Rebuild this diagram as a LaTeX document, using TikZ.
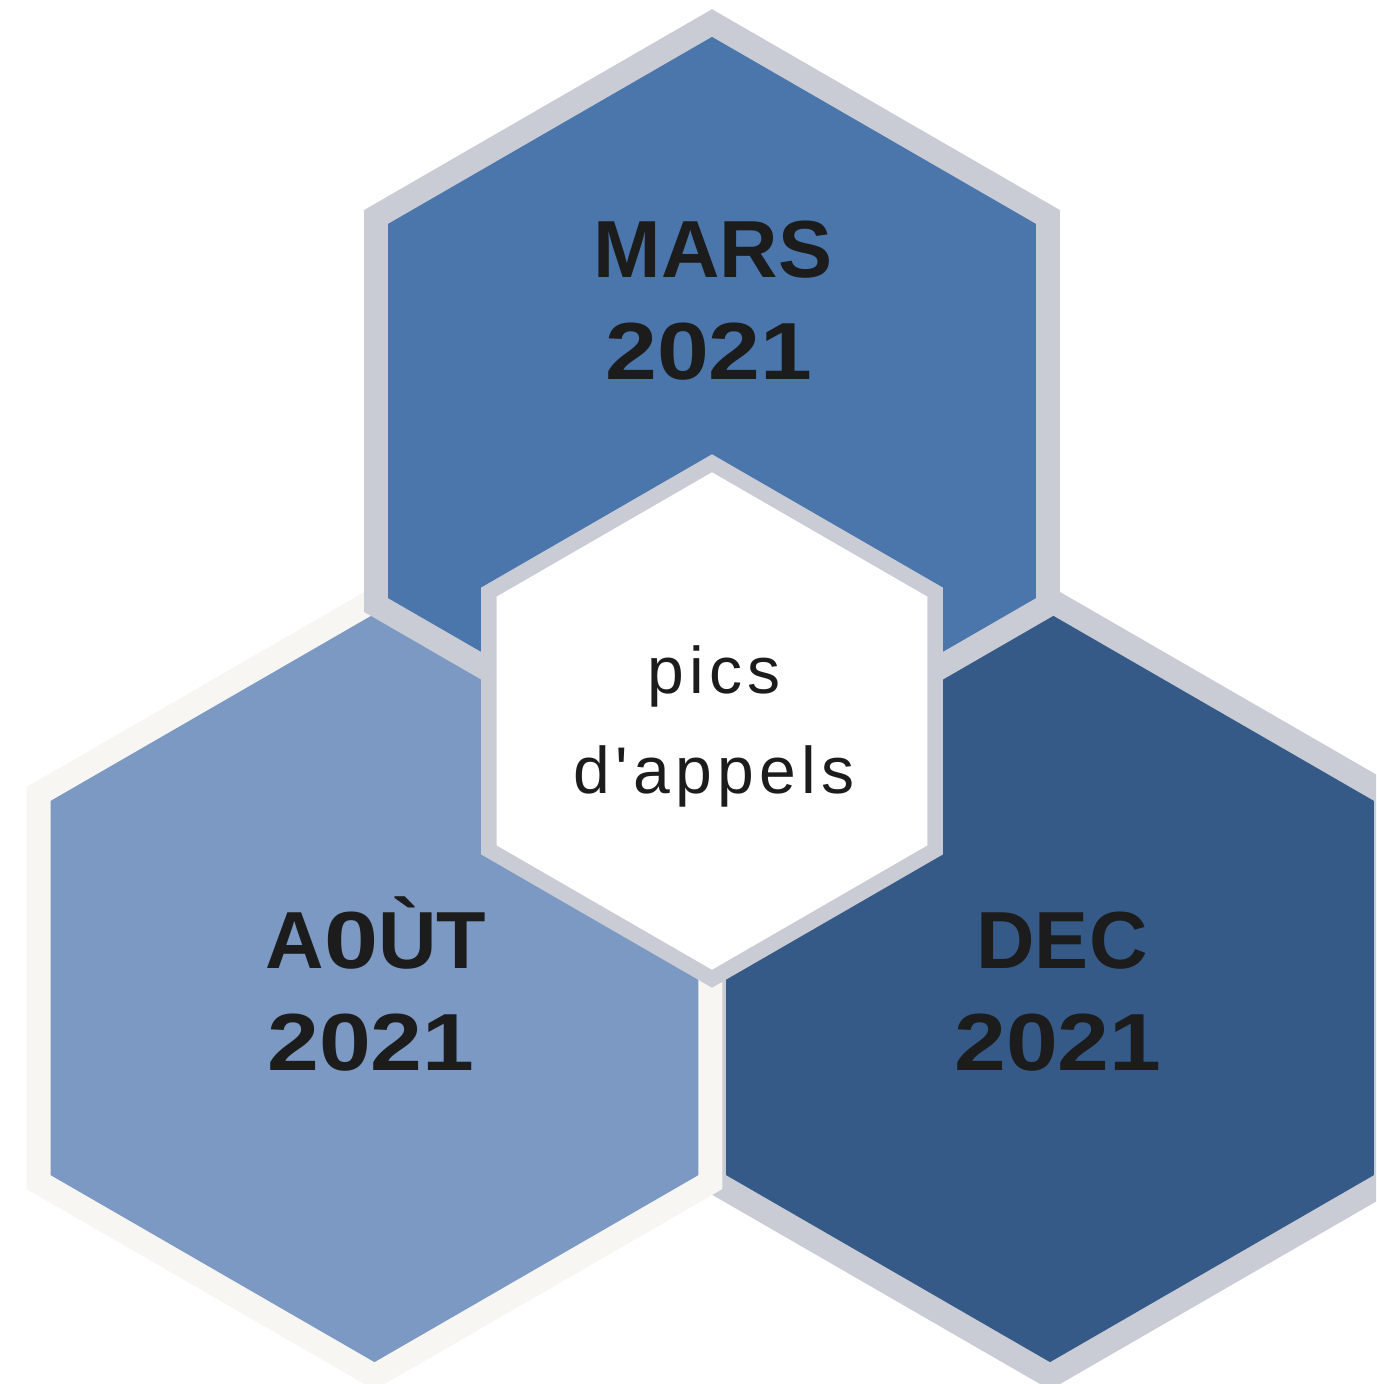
\documentclass[tikz,border=0pt]{standalone}
\usepackage{fontspec}
\setmainfont{Liberation Sans}
\newfontfamily\spacedfont[LetterSpace=8]{Liberation Sans}
\definecolor{bordergray}{RGB}{201,204,213}
\definecolor{borderlight}{RGB}{247,246,242}
\definecolor{topblue}{RGB}{74,118,172}
\definecolor{leftblue}{RGB}{123,153,195}
\definecolor{rightblue}{RGB}{53,90,135}
\definecolor{inkdark}{RGB}{28,28,28}
\newcommand\myhexfill[4]{%
  \fill[#4,shift={(#1,#2)}] (90:#3) -- (30:#3) -- (-30:#3) -- (-90:#3) -- (-150:#3) -- (150:#3) -- cycle;}
\newcommand\wideyear{\scalebox{1.15}[1]{2021}}
\tikzset{
  bigtext/.style={anchor=base,text=inkdark,font=\fontsize{81}{90}\selectfont\bfseries,inner sep=0pt},
  smalltext/.style={anchor=base,text=inkdark,font=\fontsize{66}{74}\selectfont\spacedfont,inner sep=0pt}
}
\begin{document}
\begin{tikzpicture}[x=1pt,y=-1pt]
\useasboundingbox (0,0) rectangle (1376,1384);
\clip (0,0) rectangle (1376,1384);
\fill[white] (0,0) rectangle (1376,1384);
% bottom-right hexagon
\myhexfill{1050}{988}{401.8}{bordergray}
\myhexfill{1050}{988}{374.1}{rightblue}
% bottom-left hexagon
\myhexfill{374.5}{988}{401.8}{borderlight}
\myhexfill{374.5}{988}{374.1}{leftblue}
% top hexagon
\myhexfill{712}{411}{401.8}{bordergray}
\myhexfill{712}{411}{374.1}{topblue}
% centre hexagon
\myhexfill{712}{721}{266.7}{bordergray}
\myhexfill{712}{721}{248.7}{white}
% texts
\node[bigtext] (mars) at (713,277) {MARS};
\node[bigtext] (mars21) at (709,379) {\wideyear};
\node[bigtext] (aout) at (376,968) {A\scalebox{1.2}[1]{0}ÙT};
\node[bigtext] (aout21) at (371,1070) {\wideyear};
\node[bigtext] (dec) at (1062,968) {DEC};
\node[bigtext] (dec21) at (1058,1070) {\wideyear};
\node[smalltext] (pics) at (714,693) {pics};
\node[smalltext] (appels) at (714,793) {d'appels};
\end{tikzpicture}
\end{document}
